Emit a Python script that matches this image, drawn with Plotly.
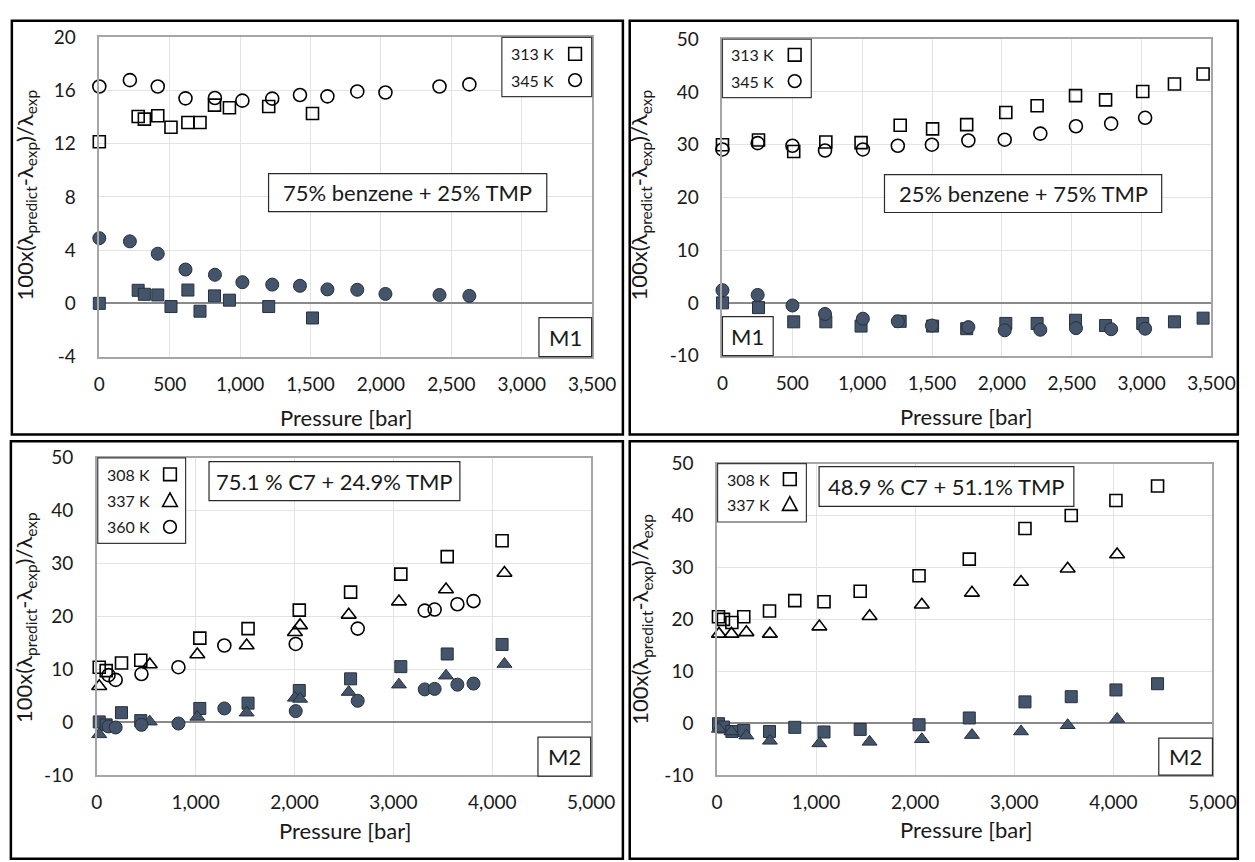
import plotly.graph_objects as go

W, H = 1255, 862

# ---------------- data: pressure [bar] vs. 100x(pred-exp)/exp ----------------
# (a) 75% benzene + 25% TMP, M1
a_p_313 = [0, 276, 320, 415, 509, 629, 715, 818, 924, 1203, 1514]
a_open_313 = [12.15, 14.05, 13.85, 14.1, 13.24, 13.6, 13.6, 14.9, 14.7, 14.8, 14.27]
a_fill_313 = [0.0, 0.98, 0.68, 0.63, -0.24, 1.0, -0.59, 0.56, 0.24, -0.24, -1.1]
a_p_345 = [0, 217, 415, 612, 821, 1016, 1228, 1425, 1620, 1832, 2032, 2416, 2628]
a_open_345 = [16.3, 16.78, 16.3, 15.41, 15.44, 15.24, 15.39, 15.66, 15.56, 15.93, 15.85, 16.3, 16.46]
a_fill_345 = [4.9, 4.66, 3.73, 2.54, 2.15, 1.59, 1.41, 1.32, 1.05, 1.02, 0.71, 0.63, 0.56]

# (b) 25% benzene + 75% TMP, M1
b_p_313 = [0, 258, 510, 740, 992, 1272, 1504, 1748, 2028, 2252, 2527, 2742, 3008, 3235, 3440]
b_open_313 = [30.0, 30.9, 28.7, 30.5, 30.4, 33.7, 33.0, 33.8, 36.1, 37.4, 39.3, 38.5, 40.1, 41.5, 43.4]
b_fill_313 = [0.0, -0.9, -3.6, -3.6, -4.4, -3.5, -4.4, -4.9, -3.9, -3.9, -3.3, -4.3, -3.9, -3.6, -2.9]
b_p_345 = [0, 252, 501, 734, 1005, 1255, 1499, 1760, 2020, 2275, 2530, 2782, 3025]
b_open_345 = [29.1, 30.3, 29.8, 28.9, 29.1, 29.8, 30.0, 30.8, 30.95, 32.1, 33.5, 34.0, 35.1]
b_fill_345 = [2.4, 1.5, -0.5, -2.1, -3.0, -3.5, -4.3, -4.6, -5.2, -5.1, -4.8, -5.0, -4.9]

# (c) 75.1 % C7 + 24.9% TMP, M2
c_p_308 = [25, 95, 250, 445, 1042, 1530, 2048, 2567, 3075, 3544, 4099]
c_open_308 = [10.4, 9.75, 11.2, 11.7, 15.9, 17.7, 21.2, 24.6, 28.0, 31.3, 34.3]
c_fill_308 = [0.05, -0.5, 1.8, 0.3, 2.6, 3.6, 6.0, 8.2, 10.5, 12.9, 14.7]
c_p_337 = [25, 536, 1017, 1516, 2004, 2056, 2548, 3056, 3532, 4123]
c_open_337 = [6.8, 10.9, 12.8, 14.5, 17.0, 18.3, 20.3, 22.8, 25.1, 28.2]
c_fill_337 = [-2.3, 0.1, 1.0, 1.8, 4.6, 4.4, 5.7, 7.1, 8.8, 11.0]
c_p_360 = [119, 191, 452, 826, 1290, 2012, 2639, 3317, 3417, 3647, 3810]
c_open_360 = [8.9, 8.0, 9.1, 10.4, 14.5, 14.8, 17.7, 21.1, 21.3, 22.3, 22.9]
c_fill_360 = [-0.8, -1.0, -0.5, -0.25, 2.6, 2.1, 4.05, 6.2, 6.3, 7.1, 7.3]

# (d) 48.9 % C7 + 51.1% TMP, M2
d_p_308 = [15, 65, 150, 270, 530, 785, 1080, 1445, 2039, 2546, 3108, 3575, 4026, 4446]
d_open_308 = [20.5, 20.0, 19.4, 20.5, 21.6, 23.6, 23.4, 25.4, 28.4, 31.6, 37.5, 40.0, 42.9, 45.7]
d_fill_308 = [-0.1, -0.75, -1.6, -1.4, -1.6, -0.8, -1.7, -1.2, -0.3, 1.0, 4.1, 5.1, 6.4, 7.6]
d_p_337 = [20, 146, 297, 534, 1033, 1540, 2067, 2573, 3068, 3539, 4038]
d_open_337 = [17.2, 17.2, 17.5, 17.2, 18.6, 20.6, 22.8, 25.1, 27.2, 29.75, 32.5]
d_fill_337 = [-1.1, -1.6, -2.4, -3.4, -3.9, -3.6, -3.1, -2.3, -1.6, -0.4, 0.8]

# ---------------- styling ----------------
FONT = "Lato, 'Open Sans', sans-serif"
TXT = "#1a1a1a"
FILL = "#44546A"
EDGE = "#26303D"
Y_TITLE = "100x(λ<sub>predict</sub>-λ<sub>exp</sub>)/λ<sub>exp</sub>"


def fx(x):
    return x / W


def fy(y):
    return 1 - y / H


panels = [
    dict(
        frame=(6, 9, 632, 434), plot=(95.6, 26, 600.5, 354),
        xmax=3500, xdtick=500, yrange=(-4, 20), ydtick=4, xstand=10,
        series=[("313 K", "square", a_p_313, a_open_313, a_fill_313),
                ("345 K", "circle", a_p_345, a_open_345, a_fill_345)],
        legend=(508, 26, 600, 87, [43, 70], 539, 583),
        label=("75% benzene + 25% TMP", 269, 166, 554, 205),
        tag=("M1", 546, 314, 600, 354),
        ytitle=(20, 188), xtitle=(348, 417),
    ),
    dict(
        frame=(639, 9, 1262, 434), plot=(734, 28, 1235, 353),
        xmax=3500, xdtick=500, yrange=(-10, 50), ydtick=10, xstand=10,
        series=[("313 K", "square", b_p_313, b_open_313, b_fill_313),
                ("345 K", "circle", b_p_345, b_open_345, b_fill_345)],
        legend=(734, 28, 825, 88, [44, 71], 765, 808),
        label=("25% benzene + 75% TMP", 900, 167, 1184, 206),
        tag=("M1", 734, 313, 786, 353),
        ytitle=(650, 188), xtitle=(984, 416),
    ),
    dict(
        frame=(5, 441, 632, 870), plot=(93, 458, 599.5, 784),
        xmax=5000, xdtick=1000, yrange=(-10, 50), ydtick=10, xstand=9,
        series=[("308 K", "square", c_p_308, c_open_308, c_fill_308),
                ("337 K", "triangle-up", c_p_337, c_open_337, c_fill_337),
                ("360 K", "circle", c_p_360, c_open_360, c_fill_360)],
        legend=(94, 458, 184, 546, [475, 502, 529], 126, 168),
        label=("75.1 % C7 + 24.9% TMP", 208, 462, 465, 502),
        tag=("M2", 545, 745, 599, 785),
        ytitle=(20, 622), xtitle=(347, 841),
    ),
    dict(
        frame=(639, 441, 1262, 870), plot=(728.4, 464, 1236, 784),
        xmax=5000, xdtick=1000, yrange=(-10, 50), ydtick=10, xstand=9,
        series=[("308 K", "square", d_p_308, d_open_308, d_fill_308),
                ("337 K", "triangle-up", d_p_337, d_open_337, d_fill_337)],
        legend=(729, 464, 820, 524, [480, 506], 761, 803),
        label=("48.9 % C7 + 51.1% TMP", 833, 467, 1094, 508),
        tag=("M2", 1181, 746, 1236, 784),
        ytitle=(651, 624), xtitle=(983, 840),
    ),
]

fig = go.Figure()
shapes = []
annotations = []
layout = {}

for i, pnl in enumerate(panels):
    n = "" if i == 0 else str(i + 1)
    xa, ya = "x" + n, "y" + n
    x0, y0, x1, y1 = pnl["plot"]

    # markers: open symbols first, filled symbols on top
    for name, sym, p, vo, vf in pnl["series"]:
        sz = 12 if sym == "square" else 13
        fig.add_trace(go.Scatter(
            x=p, y=vo, mode="markers", xaxis=xa, yaxis=ya, showlegend=False,
            name=name, cliponaxis=False,
            marker=dict(symbol=sym + "-open", size=sz, color="black",
                        line=dict(width=1.6, color="black"))))
    for name, sym, p, vo, vf in pnl["series"]:
        sz = 12 if sym == "square" else 13
        fig.add_trace(go.Scatter(
            x=p, y=vf, mode="markers", xaxis=xa, yaxis=ya, showlegend=False,
            name=name, cliponaxis=False,
            marker=dict(symbol=sym, size=sz, color=FILL,
                        line=dict(width=1, color=EDGE))))

    xt = list(range(0, pnl["xmax"] + 1, pnl["xdtick"]))
    yl, yh = pnl["yrange"]
    yt = list(range(yl, yh + 1, pnl["ydtick"]))
    layout["xaxis" + n] = dict(
        domain=[fx(x0), fx(x1)], anchor=ya, range=[0, pnl["xmax"]],
        tickvals=xt, ticktext=[f"{v:,}" for v in xt],
        showgrid=True, gridcolor="#E3E3E3", gridwidth=1, zeroline=False,
        showline=True, linecolor="#A6A6A6", linewidth=1.5, mirror=True,
        ticks="", ticklabelstandoff=pnl["xstand"],
        tickfont=dict(family=FONT, size=19, color=TXT))
    layout["yaxis" + n] = dict(
        domain=[fy(y1), fy(y0)], anchor=xa, range=[yl, yh],
        tickvals=yt, ticktext=[str(v) for v in yt],
        showgrid=True, gridcolor="#E3E3E3", gridwidth=1,
        zeroline=True, zerolinecolor="#8A8A8A", zerolinewidth=2.2,
        showline=True, linecolor="#A6A6A6", linewidth=1.5, mirror=True,
        ticks="", ticklabelstandoff=18,
        tickfont=dict(family=FONT, size=19, color=TXT))

    # outer frame of the panel
    fx0, fy0, fx1, fy1 = pnl["frame"]
    shapes.append(dict(type="rect", xref="paper", yref="paper",
                       x0=fx(fx0), x1=fx(fx1), y0=fy(fy1), y1=fy(fy0),
                       line=dict(color="black", width=2.5), layer="above"))

    # legend box: label text followed by the open symbol
    lx0, ly0, lx1, ly1, rows, tx, mx = pnl["legend"]
    shapes.append(dict(type="rect", xref="paper", yref="paper",
                       x0=fx(lx0), x1=fx(lx1), y0=fy(ly1), y1=fy(ly0),
                       line=dict(color="#3a3a3a", width=1.2),
                       fillcolor="white", layer="above"))
    for (name, sym, *_), ry in zip(pnl["series"], rows):
        annotations.append(dict(xref="paper", yref="paper", x=fx(tx), y=fy(ry),
                                text=name, showarrow=False, xanchor="center",
                                yanchor="middle",
                                font=dict(family=FONT, size=16, color=TXT)))
        h = 6.5
        if sym == "square":
            shapes.append(dict(type="rect", xref="paper", yref="paper",
                               x0=fx(mx - h), x1=fx(mx + h), y0=fy(ry + h), y1=fy(ry - h),
                               line=dict(color="black", width=1.6), layer="above"))
        elif sym == "circle":
            shapes.append(dict(type="circle", xref="paper", yref="paper",
                               x0=fx(mx - h), x1=fx(mx + h), y0=fy(ry + h), y1=fy(ry - h),
                               line=dict(color="black", width=1.6), layer="above"))
        else:
            path = (f"M {fx(mx - 7.5)} {fy(ry + 6)} L {fx(mx + 7.5)} {fy(ry + 6)} "
                    f"L {fx(mx)} {fy(ry - 8)} Z")
            shapes.append(dict(type="path", xref="paper", yref="paper", path=path,
                               line=dict(color="black", width=1.6), layer="above"))

    # composition label
    text, bx0, by0, bx1, by1 = pnl["label"]
    shapes.append(dict(type="rect", xref="paper", yref="paper",
                       x0=fx(bx0), x1=fx(bx1), y0=fy(by1), y1=fy(by0),
                       line=dict(color="#2a2a2a", width=1.2),
                       fillcolor="white", layer="above"))
    annotations.append(dict(xref="paper", yref="paper", x=fx((bx0 + bx1) / 2),
                            y=fy((by0 + by1) / 2), text=text, showarrow=False,
                            xanchor="center", yanchor="middle",
                            font=dict(family=FONT, size=22, color=TXT)))

    # model tag
    text, bx0, by0, bx1, by1 = pnl["tag"]
    shapes.append(dict(type="rect", xref="paper", yref="paper",
                       x0=fx(bx0), x1=fx(bx1), y0=fy(by1), y1=fy(by0),
                       line=dict(color="#2a2a2a", width=1.2),
                       fillcolor="white", layer="above"))
    annotations.append(dict(xref="paper", yref="paper", x=fx((bx0 + bx1) / 2),
                            y=fy((by0 + by1) / 2), text=text, showarrow=False,
                            xanchor="center", yanchor="middle",
                            font=dict(family=FONT, size=22, color=TXT)))

    # axis titles
    ax, ay = pnl["ytitle"]
    annotations.append(dict(xref="paper", yref="paper", x=fx(ax), y=fy(ay),
                            text=Y_TITLE, textangle=-90, showarrow=False,
                            xanchor="center", yanchor="middle",
                            font=dict(family=FONT, size=22, color=TXT)))
    ax, ay = pnl["xtitle"]
    annotations.append(dict(xref="paper", yref="paper", x=fx(ax), y=fy(ay),
                            text="Pressure [bar]", showarrow=False,
                            xanchor="center", yanchor="middle",
                            font=dict(family=FONT, size=22, color=TXT)))

fig.update_layout(
    width=W, height=H, margin=dict(l=0, r=0, t=0, b=0),
    paper_bgcolor="white", plot_bgcolor="white",
    showlegend=False, shapes=shapes, annotations=annotations,
    font=dict(family=FONT, color=TXT),
    **layout,
)

fig.write_html("out.html")
